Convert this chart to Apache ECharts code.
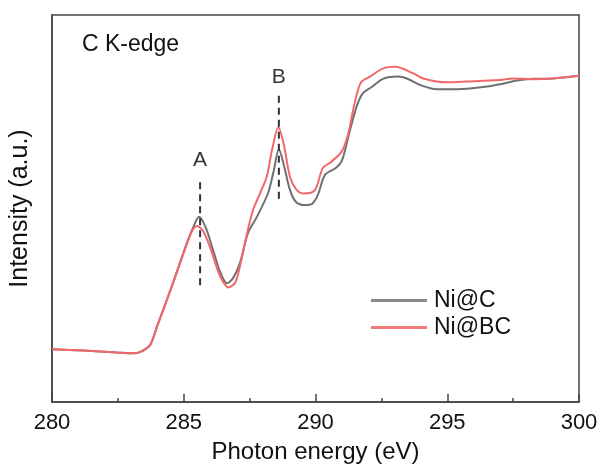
<!DOCTYPE html>
<html>
<head>
<meta charset="utf-8">
<script src="https://cdn.jsdelivr.net/npm/echarts@6/dist/echarts.min.js"></script>
<style>html,body{margin:0;padding:0;background:#fff}#c{width:603px;height:469px}</style>
</head>
<body>
<div id="c"></div>
<script>
// Ni@C (gray)
const energyC = [280.00,281.18,282.47,283.07,283.34,283.72,283.98,284.59,285.05,285.35,285.58,285.84,286.11,286.38,286.64,286.87,287.13,287.44,287.78,288.20,288.42,288.61,288.80,289.03,289.26,289.60,289.87,290.09,290.36,290.78,291.01,291.31,291.58,291.80,292.14,292.56,293.13,293.47,293.97,294.61,295.37,296.51,297.00,297.65,298.25,299.01,300.00];
const intensityC = [0.136,0.133,0.128,0.126,0.129,0.147,0.194,0.307,0.398,0.450,0.479,0.450,0.393,0.336,0.307,0.320,0.359,0.437,0.479,0.540,0.599,0.653,0.612,0.548,0.517,0.509,0.512,0.535,0.587,0.605,0.625,0.703,0.767,0.798,0.814,0.835,0.841,0.836,0.819,0.808,0.808,0.815,0.821,0.831,0.835,0.836,0.843];
// Ni@BC (red)
const energyBC = [280.00,281.18,282.47,283.07,283.34,283.72,283.98,284.59,285.05,285.30,285.51,285.75,286.05,286.35,286.69,286.95,287.13,287.40,287.63,287.90,288.15,288.35,288.59,288.80,289.03,289.26,289.53,289.79,290.02,290.28,290.55,290.99,291.23,291.43,291.61,291.75,292.07,292.57,293.02,293.71,294.09,294.98,295.74,297.00,297.50,298.25,299.01,300.00];
const intensityBC = [0.136,0.133,0.128,0.126,0.129,0.147,0.194,0.307,0.395,0.440,0.455,0.440,0.390,0.330,0.296,0.308,0.350,0.435,0.496,0.540,0.582,0.651,0.710,0.664,0.582,0.550,0.539,0.540,0.553,0.605,0.618,0.647,0.690,0.755,0.806,0.828,0.841,0.862,0.866,0.849,0.836,0.826,0.828,0.832,0.836,0.834,0.836,0.843];
// Peak markers
const peakNames = ['A','B'];
const peakEnergy = [285.62, 288.61];
const dashLow = [0.302, 0.525];
const dashHigh = [0.579, 0.798];
const peakLabelY = [0.625, 0.840];
const xTicks = [280, 285, 290, 295, 300];

const font = 'Liberation Sans, Arial, sans-serif';
const zip = (a, b) => a.map((v, i) => [v, b[i]]);

const series = [
  {name:'Ni@C', type:'line', data: zip(energyC, intensityC), symbol:'none', smooth:0.3,
   lineStyle:{color:'#707070', width:2}, itemStyle:{color:'#8a8a8a'}, z:2},
  {name:'Ni@BC', type:'line', data: zip(energyBC, intensityBC), symbol:'none', smooth:0.3,
   lineStyle:{color:'#f26868', width:2}, itemStyle:{color:'#f57a7a'}, z:3}
];
peakNames.forEach((n, i) => {
  series.push({name:'dash'+n, type:'line', symbol:'none', silent:true, z:4,
    data:[[peakEnergy[i], dashLow[i]], [peakEnergy[i], dashHigh[i]]],
    lineStyle:{color:'#333', width:2, type:[7,5]}});
  series.push({name:'label'+n, type:'scatter', symbolSize:0, silent:true, z:5,
    data:[[peakEnergy[i], peakLabelY[i]]],
    label:{show:true, position:'inside', formatter:n, color:'#000', fontSize:21, fontFamily:font}});
});

const chart = echarts.init(document.getElementById('c'), null, {renderer:'canvas'});
chart.setOption({
  animation:false,
  backgroundColor:'#fff',
  grid:{left:52, right:24, top:15, bottom:67, show:true, borderColor:'#444', borderWidth:1.5},
  legend:{data:['Ni@C','Ni@BC'], orient:'vertical', left:366, top:284, icon:'rect', itemWidth:56, itemHeight:3, itemGap:4,
    textStyle:{fontSize:23, fontFamily:font, color:'#111', padding:[0,0,0,2]}},
  graphic:[{type:'text', left:82, top:33, style:{text:'C K-edge', fontSize:23, fontFamily:font, fill:'#111'}}],
  xAxis:{type:'value', min:xTicks[0], max:xTicks[xTicks.length-1], interval:5,
    name:'Photon energy (eV)', nameLocation:'middle', nameGap:38,
    nameTextStyle:{fontSize:24, fontFamily:font, color:'#111'},
    axisLine:{lineStyle:{color:'#444', width:1.5}},
    axisTick:{inside:true, length:8, lineStyle:{color:'#444', width:1.5}},
    minorTick:{show:true, splitNumber:2, length:4, lineStyle:{color:'#444', width:1.5}},
    axisLabel:{fontSize:22, fontFamily:font, color:'#111', margin:10},
    splitLine:{show:false}},
  yAxis:{type:'value', min:0, max:1,
    name:'Intensity (a.u.)', nameLocation:'middle', nameGap:19,
    nameTextStyle:{fontSize:25, fontFamily:font, color:'#111'},
    axisLine:{show:true, lineStyle:{color:'#444', width:1.5}},
    axisTick:{show:false}, axisLabel:{show:false}, splitLine:{show:false}},
  series: series
});
</script>
</body>
</html>
